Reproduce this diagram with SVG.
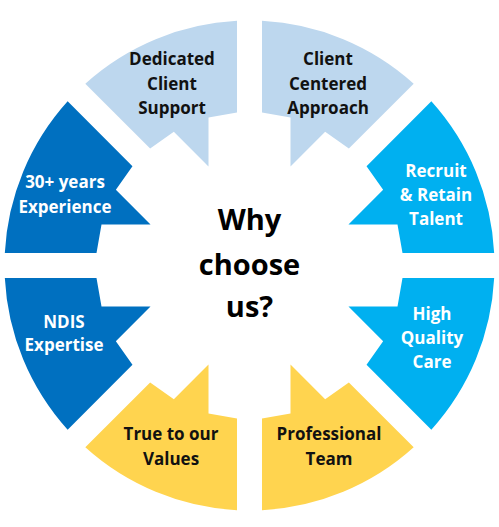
<svg xmlns="http://www.w3.org/2000/svg" xmlns:xlink="http://www.w3.org/1999/xlink" width="499" height="527" viewBox="0 0 499 527">
<style>
.lb{fill:#BDD7EE}.cy{fill:#00B0F0}.db{fill:#0070C0}.ye{fill:#FFD44F}
text{font-family:"Open Sans","Liberation Sans",sans-serif;font-weight:bold;text-anchor:middle}
.lbl{font-size:17px}.dk{fill:#111}.wt{fill:#fff}
.ctr{font-size:29px;fill:#000}
</style>
<defs>
<path id="seg" d="M12.5,-244.68 A245,245 0 0 1 164.17,-181.85 L99.35,-117.03 L75.66,-133.64 L41,-98.98 L41,-148 L12.5,-153 Z"/>
</defs>
<rect width="499" height="527" fill="#fff"/>
<g id="client-centered">
<use xlink:href="#seg" class="lb" transform="translate(249.5,265.5) rotate(0)"/>
<text class="lbl dk" x="328" y="65">Client</text>
<text class="lbl dk" x="328" y="90">Centered</text>
<text class="lbl dk" x="328" y="114">Approach</text>
</g>
<g id="recruit">
<use xlink:href="#seg" class="cy" transform="translate(249.5,265.5) rotate(45)"/>
<text class="lbl wt" x="436" y="177">Recruit</text>
<text class="lbl wt" x="436" y="201">&amp; Retain</text>
<text class="lbl wt" x="436" y="225">Talent</text>
</g>
<g id="high-quality">
<use xlink:href="#seg" class="cy" transform="translate(249.5,265.5) rotate(90)"/>
<text class="lbl wt" x="432" y="320">High</text>
<text class="lbl wt" x="432" y="344">Quality</text>
<text class="lbl wt" x="432" y="368">Care</text>
</g>
<g id="professional">
<use xlink:href="#seg" class="ye" transform="translate(249.5,265.5) rotate(135)"/>
<text class="lbl dk" x="329" y="440">Professional</text>
<text class="lbl dk" x="329" y="465">Team</text>
</g>
<g id="true-values">
<use xlink:href="#seg" class="ye" transform="translate(249.5,265.5) rotate(180)"/>
<text class="lbl dk" x="171" y="440">True to our</text>
<text class="lbl dk" x="171" y="465">Values</text>
</g>
<g id="ndis">
<use xlink:href="#seg" class="db" transform="translate(249.5,265.5) rotate(225)"/>
<text class="lbl wt" x="64" y="328">NDIS</text>
<text class="lbl wt" x="64" y="351">Expertise</text>
</g>
<g id="experience">
<use xlink:href="#seg" class="db" transform="translate(249.5,265.5) rotate(270)"/>
<text class="lbl wt" x="65" y="188">30+ years</text>
<text class="lbl wt" x="65" y="213">Experience</text>
</g>
<g id="dedicated">
<use xlink:href="#seg" class="lb" transform="translate(249.5,265.5) rotate(315)"/>
<text class="lbl dk" x="172" y="65">Dedicated</text>
<text class="lbl dk" x="172" y="90">Client</text>
<text class="lbl dk" x="172" y="114">Support</text>
</g>
<g id="center">
<text class="ctr" x="249.5" y="230">Why</text>
<text class="ctr" x="249.5" y="275">choose</text>
<text class="ctr" x="249.5" y="317">us?</text>
</g>
<g id="connectors"></g>
</svg>
